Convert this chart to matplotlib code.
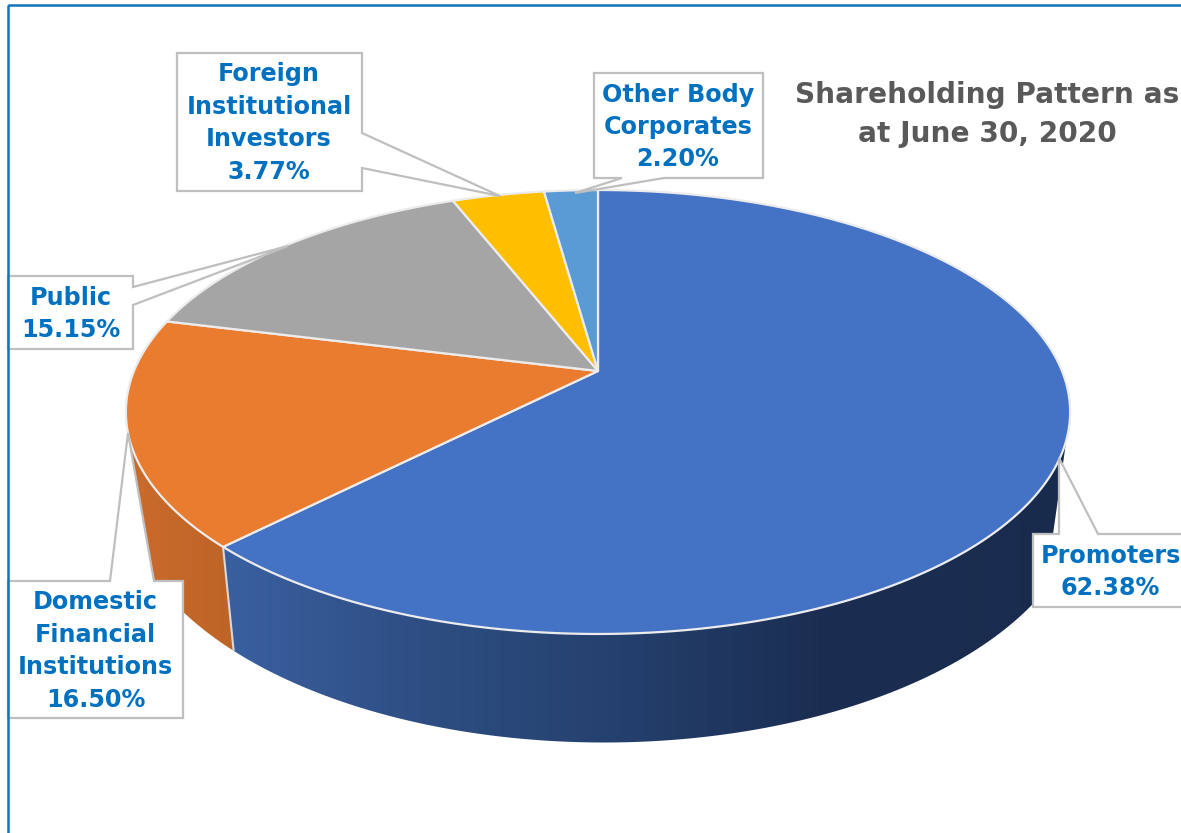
import numpy as np
import matplotlib
matplotlib.use("Agg")
import matplotlib.pyplot as plt
from matplotlib.patches import Polygon, Rectangle

plt.rcParams['font.family'] = ['DejaVu Sans']

# ---- data (clockwise from 12 o'clock) ----
names = ["Promoters", "Domestic\nFinancial\nInstitutions", "Public",
         "Foreign\nInstitutional\nInvestors", "Other Body\nCorporates"]
shares = [62.38, 16.50, 15.15, 3.77, 2.20]
colors = ["#4472C4", "#EA7C30", "#A5A5A5", "#FDBF00", "#5B9BD5"]
title_text = "Shareholding Pattern as\nat June 30, 2020"

W, H = 1181, 833
fig = plt.figure(figsize=(W / 100, H / 100), dpi=100, facecolor="white")
ax = fig.add_axes([0, 0, 1, 1])
ax.set_xlim(0, W)
ax.set_ylim(H, 0)
ax.axis("off")

K = 0.1847


def top_rim(deg, cx=598.0, cy=371.0, a=464.0, b=214.4):
    t = np.radians(deg)
    X, Y = np.sin(t), np.cos(t)
    d = 1 + K * Y
    return np.column_stack([cx + a * X / d, cy - b * Y / d])


def low_rim(deg):
    return top_rim(np.asarray(deg) - 2.0, cx=604.0, cy=442.0, a=473.0, b=245.0)


edges = np.concatenate([[0], np.cumsum(shares)]) / np.sum(shares) * 360.0
apex = top_rim(np.array([0.0]), a=0, b=0)


def hgrad(poly, stops, z):
    xs = np.array([s[0] for s in stops], float)
    cols = np.array([matplotlib.colors.to_rgb(s[1]) for s in stops])
    gx = np.linspace(poly[:, 0].min(), poly[:, 0].max(), 600)
    rgb = np.stack([np.interp(gx, xs, cols[:, i]) for i in range(3)], axis=-1)[None, :, :]
    im = ax.imshow(rgb, extent=[gx[0], gx[-1], poly[:, 1].max(), poly[:, 1].min()],
                   aspect="auto", zorder=z, interpolation="bilinear")
    patch = Polygon(poly, closed=True, transform=ax.transData, fc="none", ec="none")
    ax.add_patch(patch)
    im.set_clip_path(patch)


# sides of the two front slices
a0 = edges[1]
promoter_side = np.vstack([top_rim(np.linspace(107.7, a0, 200)),
                           low_rim(np.linspace(a0, 125, 200))])
hgrad(promoter_side, [(233, "#3A5F9F"), (420, "#2E4E83"), (620, "#24406D"),
                      (820, "#1B2E52"), (1070, "#192B4D")], 1)
orange_side = np.vstack([top_rim(np.linspace(a0, 253.4, 100)),
                         low_rim(np.linspace(250, a0, 100))])
hgrad(orange_side, [(130, "#C96B2C"), (232, "#BE6427")], 1)
ax.set_xlim(0, W)
ax.set_ylim(H, 0)
ax.plot(*np.vstack([top_rim(np.array([a0])), low_rim(np.array([a0]))]).T,
        color="#D9D9D9", lw=1.5, zorder=2, solid_capstyle="butt")

# top face
for i, c in enumerate(colors):
    rim = top_rim(np.linspace(edges[i], edges[i + 1], 300))
    ax.add_patch(Polygon(np.vstack([apex, rim]), closed=True, fc=c,
                         ec="#ECECEC", lw=1.6, joinstyle="round", zorder=3))

# callouts with their labels
callouts = [
    [(1033, 534), (1059, 534), (1059, 458), (1098, 534), (1190, 534), (1190, 607), (1033, 607)],
    [(8, 581), (110, 581), (128, 433), (154, 581), (183, 581), (183, 718), (8, 718)],
    [(8, 276), (133, 276), (133, 287), (288, 246), (133, 305), (133, 349), (8, 349)],
    [(177, 53), (362, 53), (362, 133), (500, 196), (362, 168), (362, 191), (177, 191)],
    [(594, 73), (763, 73), (763, 178), (664, 178), (575, 193), (622, 178), (594, 178)],
]
label_xy = [(1110.5, 572), (95.5, 651), (71, 314), (269, 123), (678, 127)]
for name, val, shape, (tx, ty) in zip(names, shares, callouts, label_xy):
    ax.add_patch(Polygon(shape, closed=True, fc="white", ec="#BFBFBF", lw=1.6,
                         joinstyle="miter", zorder=4))
    ax.text(tx, ty, f"{name}\n{val:.2f}%", ha="center", va="center", ma="center",
            color="#0070C0", fontsize=17.2, fontweight="bold", linespacing=1.44, zorder=5)

ax.text(987.5, 114.5, title_text, ha="center", va="center", ma="center", color="#595959",
        fontsize=20.2, fontweight="bold", linespacing=1.54, zorder=5)

# outer frame
ax.add_patch(Rectangle((8, 5), 1300, 1000, fc="none", ec="#0F75BD", lw=1.8, zorder=6))

fig.savefig("out.png", dpi=100)
